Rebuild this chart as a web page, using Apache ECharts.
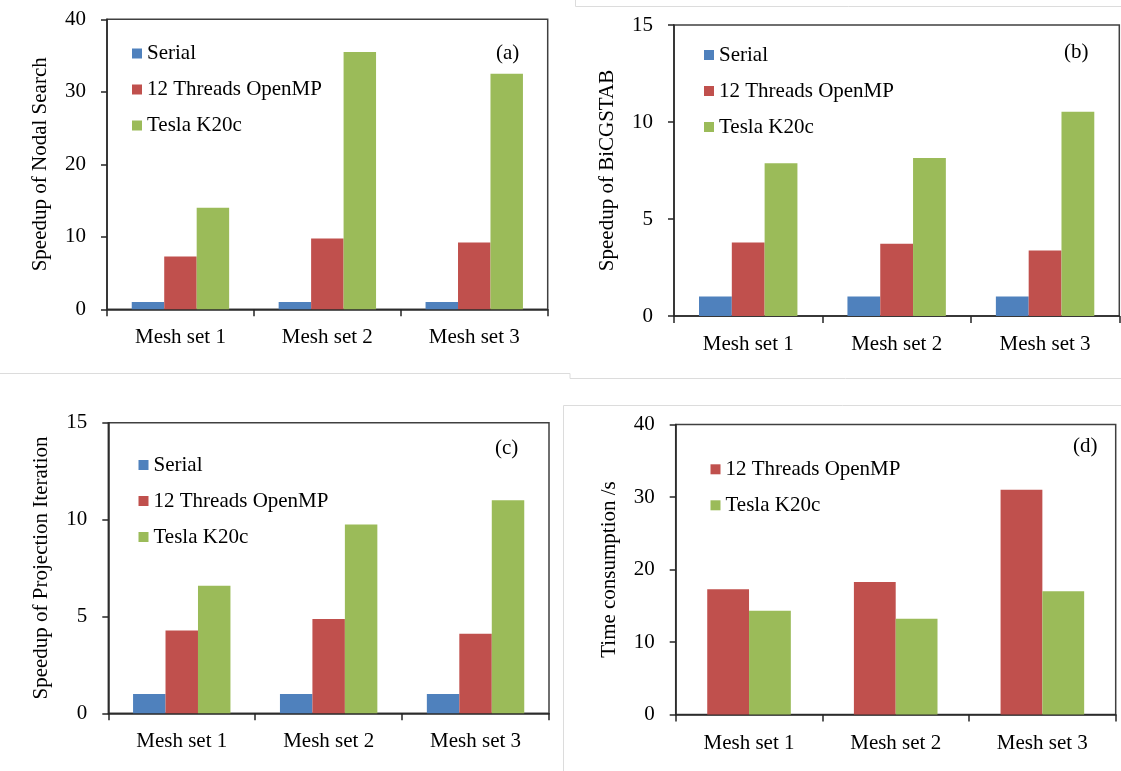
<!DOCTYPE html>
<html>
<head>
<meta charset="utf-8">
<script src="https://cdn.jsdelivr.net/npm/echarts@6/dist/echarts.min.js"></script>
<style>
  html, body { margin: 0; padding: 0; background: #fff; }
  #chart { width: 1121px; height: 771px; }
</style>
</head>
<body>
<div id="chart"></div>
<script>
// Categories shared by all four panels
const categories = ['Mesh set 1', 'Mesh set 2', 'Mesh set 3'];

// (a) Speedup of nodal search
const nodalSerial = [1, 1, 1];
const nodalOpenMP = [7.3, 9.75, 9.2];
const nodalTesla = [14.0, 35.5, 32.5];

// (b) Speedup of BiCGSTAB
const bicgSerial = [1, 1, 1];
const bicgOpenMP = [3.79, 3.72, 3.37];
const bicgTesla = [7.88, 8.15, 10.53];

// (c) Speedup of projection iteration
const projSerial = [1, 1, 1];
const projOpenMP = [4.27, 4.87, 4.11];
const projTesla = [6.59, 9.75, 11.0];

// (d) Time consumption in seconds
const timeOpenMP = [17.26, 18.27, 31.0];
const timeTesla = [14.3, 13.2, 17.0];

// Axis ranges and titles
const yMax = [40, 15, 15, 40];
const yStep = [10, 5, 5, 10];
const yNames = ['Speedup of Nodal Search', 'Speedup of BiCGSTAB',
                'Speedup of Projection Iteration', 'Time consumption /s'];
const panelTags = ['(a)', '(b)', '(c)', '(d)'];
const seriesNames = ['Serial', '12 Threads OpenMP', 'Tesla K20c'];

const FONT = "'Liberation Serif', 'Times New Roman', serif";
const FS = 21;
const C_BLUE = '#4F81BD', C_RED = '#C0504D', C_GREEN = '#9BBB59';
const AXIS = '#262626';

const grids = [
  { left: 107, top: 19.3, width: 440.7, height: 290 },
  { left: 674, top: 25, width: 445.3, height: 291 },
  { left: 108.3, top: 422.7, width: 440.7, height: 290.6 },
  { left: 675.7, top: 424.5, width: 440, height: 290 }
];

const chart = echarts.init(document.getElementById('chart'), null, { renderer: 'canvas' });

const xAxes = grids.map((g, i) => ({
  type: 'category', gridIndex: i, data: categories,
  axisLine: { lineStyle: { color: AXIS, width: 1.5 } },
  axisTick: { show: true, inside: false, length: 7, lineStyle: { color: AXIS, width: 1.5 } },
  axisLabel: { color: '#000', fontFamily: FONT, fontSize: FS, margin: 18 }
}));

const yAxes = grids.map((g, i) => ({
  type: 'value', gridIndex: i, min: 0, max: yMax[i], interval: yStep[i],
  name: yNames[i], nameLocation: 'middle', nameGap: 56, nameRotate: 90,
  nameTextStyle: { color: '#000', fontFamily: FONT, fontSize: FS },
  axisLine: { show: true, lineStyle: { color: AXIS, width: 1.5 } },
  axisTick: { show: true, inside: false, length: 6, lineStyle: { color: AXIS, width: 1.5 } },
  splitLine: { show: false },
  axisLabel: { color: '#000', fontFamily: FONT, fontSize: FS, margin: 21 }
}));

function bar(name, data, color, gi, catGap) {
  return {
    type: 'bar', name, data, xAxisIndex: gi, yAxisIndex: gi,
    barGap: '0%', barCategoryGap: catGap,
    itemStyle: { color }, silent: true
  };
}

const series = [
  bar(seriesNames[0], nodalSerial, C_BLUE, 0, '33.7%'),
  bar(seriesNames[1], nodalOpenMP, C_RED, 0, '33.7%'),
  bar(seriesNames[2], nodalTesla, C_GREEN, 0, '33.7%'),
  bar(seriesNames[0], bicgSerial, C_BLUE, 1, '33.7%'),
  bar(seriesNames[1], bicgOpenMP, C_RED, 1, '33.7%'),
  bar(seriesNames[2], bicgTesla, C_GREEN, 1, '33.7%'),
  bar(seriesNames[0], projSerial, C_BLUE, 2, '33.7%'),
  bar(seriesNames[1], projOpenMP, C_RED, 2, '33.7%'),
  bar(seriesNames[2], projTesla, C_GREEN, 2, '33.7%'),
  bar(seriesNames[1], timeOpenMP, C_RED, 3, '43%'),
  bar(seriesNames[2], timeTesla, C_GREEN, 3, '43%')
];

function legend(left, top, names) {
  return {
    orient: 'vertical', left, top, padding: 0, itemGap: 15,
    itemWidth: 10, itemHeight: 10, icon: 'rect', selectedMode: false,
    data: names,
    textStyle: { color: '#000', fontFamily: FONT, fontSize: FS }
  };
}

const legends = [
  legend(132, 43, seriesNames),
  legend(704, 44.5, seriesNames),
  legend(138.5, 454.5, seriesNames),
  legend(710.5, 458.8, seriesNames.slice(1))
];

// Panel tags and frame lines
const tagPos = [[496, 54], [1064, 53], [495, 449], [1073, 447]];
const frameColor = '#dcdcdc';
const graphic = tagPos.map((p, i) => ({
  type: 'text', left: p[0], top: p[1] - 11,
  style: { text: panelTags[i], fill: '#000', font: FS + 'px ' + FONT }
})).concat([
  { type: 'polyline', shape: { points: [[0, 373.5], [570, 373.5], [570, 378.5], [1121, 378.5]] },
    style: { stroke: frameColor, lineWidth: 1, fill: null } },
  { type: 'polyline', shape: { points: [[575.5, 0], [575.5, 6.5], [1121, 6.5]] },
    style: { stroke: frameColor, lineWidth: 1, fill: null } },
  { type: 'polyline', shape: { points: [[563.5, 771], [563.5, 405.5], [1121, 405.5]] },
    style: { stroke: frameColor, lineWidth: 1, fill: null } }
]);

chart.setOption({
  animation: false,
  backgroundColor: '#fff',
  grid: grids.map(g => Object.assign({ show: true, borderColor: '#404040', borderWidth: 1.5, backgroundColor: 'transparent' }, g)),
  xAxis: xAxes,
  yAxis: yAxes,
  legend: legends,
  series,
  graphic
});
</script>
</body>
</html>
